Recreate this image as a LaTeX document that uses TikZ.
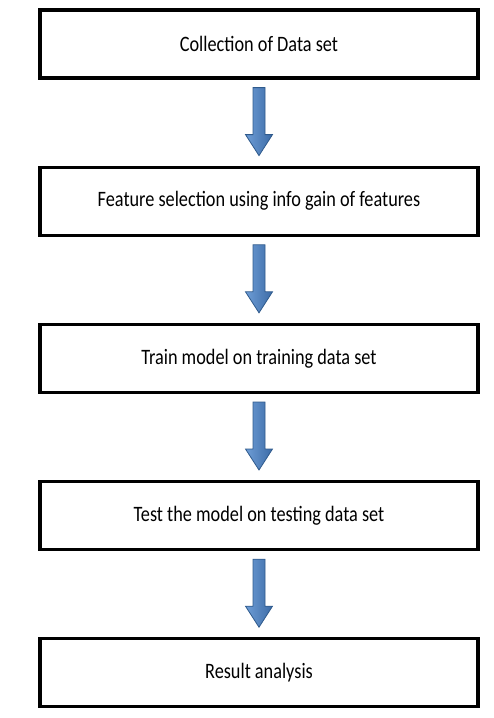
\documentclass[tikz,border=0pt]{standalone}
\usepackage{fontspec}
\setmainfont{Carlito}[FakeStretch=0.83]
\usetikzlibrary{positioning,calc}

\definecolor{arrowlight}{HTML}{6E9DD6}
\definecolor{arrowdark}{HTML}{3C6BA6}
\definecolor{arrowedge}{HTML}{2F5A8C}

\begin{document}
\begin{tikzpicture}[x=1pt,y=1pt,node distance=86pt,
    stage/.style={draw=black, line width=3.2pt, minimum width=438pt, minimum height=68pt,
        inner sep=0pt, font=\fontsize{22}{26}\selectfont},
    flowarrow/.style={draw=arrowedge, line width=0.8pt, left color=arrowlight, right color=arrowdark,
        to path={let \p1=(\tikztostart), \p2=(\tikztotarget) in
            (\x1-6pt,\y1) -- (\x1+6pt,\y1) -- (\x1+6pt,\y2+21pt) -- (\x1+13.5pt,\y2+21pt)
            -- (\x1,\y2) -- (\x1-13.5pt,\y2+21pt) -- (\x1-6pt,\y2+21pt) -- cycle}}]
\useasboundingbox (0,0) rectangle (494,-718);

% stages of the method
\node[stage] (collect) at (259,-44) {Collection of Data set};
\node[stage, below=of collect] (select) {Feature selection using info gain of features};
\node[stage, below=of select] (train) {Train model on training data set};
\node[stage, below=of train] (test) {Test the model on testing data set};
\node[stage, below=of test] (result) {Result analysis};

% block arrows between stages
\foreach \a/\b in {collect/select, select/train, train/test, test/result}
    \draw[flowarrow] ([yshift=-8pt]\a.south) to ([yshift=10pt]\b.north);
\end{tikzpicture}
\end{document}
